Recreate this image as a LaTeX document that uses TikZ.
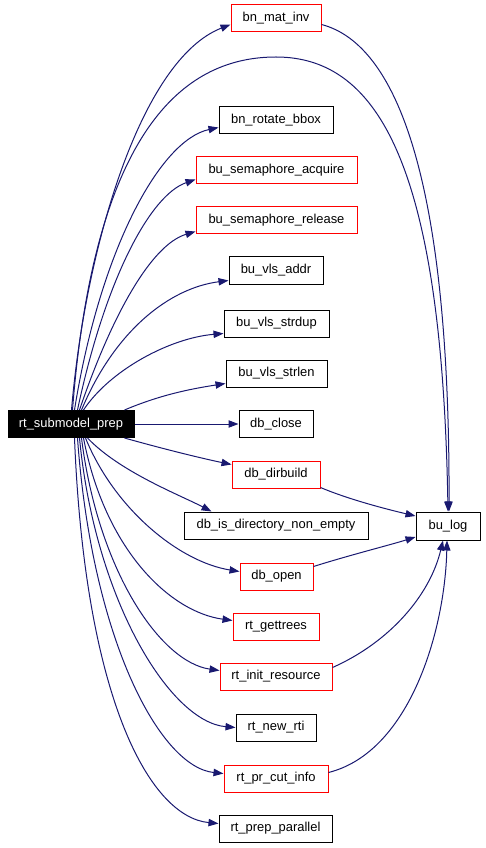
\documentclass[tikz,border=0pt]{standalone}
\usepackage{fontspec}
\setmainfont{Liberation Sans}
\usetikzlibrary{arrows.meta,calc}
\definecolor{edgecol}{RGB}{25,25,112}
\definecolor{boxred}{RGB}{255,0,0}
\begin{document}
\begin{tikzpicture}[x=0.75pt,y=-0.75pt,
  box/.style={draw=black,line width=0.75pt,minimum height=20.25pt,inner sep=0pt,
    font=\fontsize{9.7pt}{11pt}\selectfont},
  redbox/.style={box,draw=boxred},
  edge/.style={draw=edgecol,line width=0.75pt,-{Triangle[length=7.5pt,width=5.5pt]}}]
\useasboundingbox (0,0) rectangle (485,848);
\node[box,fill=black,text=white,minimum width=94.5pt] (src) at (71,424) {rt\_submodel\_prep};
\node[redbox,minimum width=67.5pt] (mi) at (276,18.5) {bn\_mat\_inv};
\node[box,minimum width=85.5pt] (rb) at (276,120.5) {bn\_rotate\_bbox};
\node[redbox,minimum width=120.75pt] (sa) at (276.5,170.5) {bu\_semaphore\_acquire};
\node[redbox,minimum width=120.75pt] (sr) at (276.5,220.5) {bu\_semaphore\_release};
\node[box,minimum width=70.5pt] (va) at (276,270.5) {bu\_vls\_addr};
\node[box,minimum width=78.75pt] (vd) at (276.5,323.5) {bu\_vls\_strdup};
\node[box,minimum width=75.75pt] (vl) at (276.5,373.5) {bu\_vls\_strlen};
\node[box,minimum width=55.5pt] (dc) at (276,424) {db\_close};
\node[redbox,minimum width=66pt] (db) at (276,474.5) {db\_dirbuild};
\node[box,minimum width=138pt] (dd) at (276,525.5) {db\_is\_directory\_non\_empty};
\node[redbox,minimum width=54.75pt] (do) at (276.5,576.5) {db\_open};
\node[redbox,minimum width=64.5pt] (gt) at (276,626.5) {rt\_gettrees};
\node[redbox,minimum width=84pt] (ir) at (276,676.5) {rt\_init\_resource};
\node[box,minimum width=60pt] (nr) at (276,727.5) {rt\_new\_rti};
\node[redbox,minimum width=78pt] (pc) at (276,778.5) {rt\_pr\_cut\_info};
\node[box,minimum width=84.75pt] (pp) at (275.5,828.5) {rt\_prep\_parallel};
\node[box,minimum width=48pt,minimum height=21pt] (bl) at (448,526) {bu\_log};
% edges from source (top)
\draw[edge] ($(src.north west)+(64,0)$) .. controls (85,250) and (140,60) .. ($(mi.west)+(0,6)$);
\draw[edge] ($(src.north west)+(65,0)$) .. controls (95,120) and (190,57) .. (276,57)
   .. controls (380,57) and (442,170) .. (bl.north);
\draw[edge] ($(src.north west)+(67,0)$) .. controls (100,250) and (160,140) .. ($(rb.west)+(0,7)$);
\draw[edge] ($(src.north west)+(70,0)$) .. controls (105,280) and (150,195) .. ($(sa.west)+(0,9)$);
\draw[edge] ($(src.north west)+(72,0)$) .. controls (110,320) and (150,245) .. ($(sr.west)+(0,11)$);
\draw[edge] ($(src.north west)+(74,0)$) .. controls (115,330) and (170,288) .. ($(va.west)+(0,10)$);
\draw[edge] ($(src.north west)+(76,0)$) .. controls (110,370) and (170,338) .. ($(vd.west)+(0,10)$);
\draw[edge] ($(src.north west)+(117,0)$) .. controls (160,395) and (190,389) .. ($(vl.west)+(0,10)$);
\draw[edge] (src.east) -- (dc.west);
% edges from source (bottom)
\draw[edge] ($(src.south west)+(117,0)$) .. controls (160,448) and (200,458) .. ($(db.west)+(0,-10)$);
\draw[edge] ($(src.south west)+(80,0)$) .. controls (120,472) and (180,495) .. ($(dd.north west)+(28,0)$);
\draw[edge] ($(src.south west)+(78,0)$) .. controls (115,510) and (180,562) .. ($(do.west)+(0,-5)$);
\draw[edge] ($(src.south west)+(76,0)$) .. controls (105,550) and (170,612) .. ($(gt.west)+(0,-6)$);
\draw[edge] ($(src.south west)+(74,0)$) .. controls (98,570) and (160,662) .. ($(ir.west)+(0,-6)$);
\draw[edge] ($(src.south west)+(72,0)$) .. controls (95,600) and (170,722) .. (nr.west);
\draw[edge] ($(src.south west)+(70,0)$) .. controls (92,640) and (160,767) .. ($(pc.west)+(0,-5)$);
\draw[edge] ($(src.south west)+(67,0)$) .. controls (85,700) and (150,817) .. ($(pp.west)+(0,-5)$);
% edges into bu_log
\draw[edge] ($(mi.east)+(0,6)$) .. controls (400,45) and (450,190) .. ($(bl.north)+(1,0)$);
\draw[edge] ($(db.east)+(0,13)$) .. controls (350,500) and (390,510) .. ($(bl.west)+(0,-10)$);
\draw[edge] ($(do.east)+(0,-10)$) .. controls (350,555) and (390,545) .. ($(bl.west)+(0,11)$);
\draw[edge] ($(ir.east)+(0,-9)$) .. controls (390,642) and (430,595) .. ($(bl.south)+(-5,0)$);
\draw[edge] ($(pc.east)+(0,-6)$) .. controls (410,752) and (445,630) .. ($(bl.south)+(-1,0)$);
\end{tikzpicture}
\end{document}
